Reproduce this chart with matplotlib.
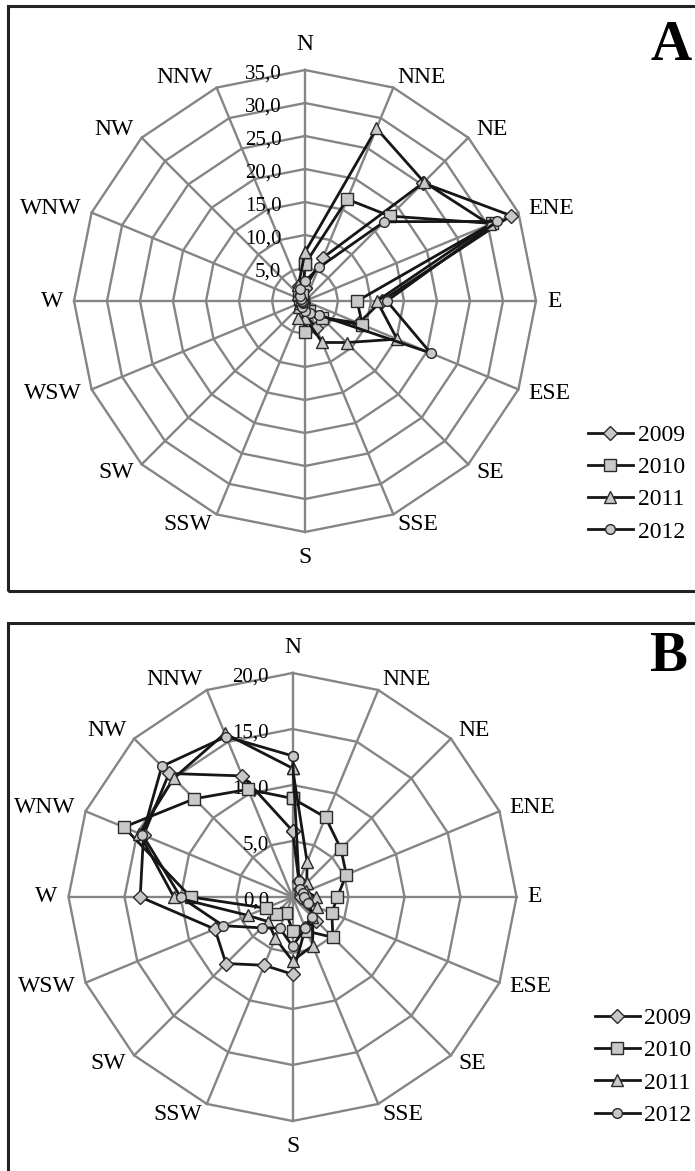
import numpy as np
import matplotlib
matplotlib.use('Agg')
import matplotlib.pyplot as plt
from matplotlib.patches import Rectangle

plt.rcParams['font.family'] = ['Liberation Serif', 'DejaVu Serif']

# Wind directions, clockwise from north
directions = ['N', 'NNE', 'NE', 'ENE', 'E', 'ESE', 'SE', 'SSE',
              'S', 'SSW', 'SW', 'WSW', 'W', 'WNW', 'NW', 'NNW']
years = ['2009', '2010', '2011', '2012']

# Panel A values (%)
a_2009 = [2.0, 7.1, 25.3, 33.8, 11.6, 8.8, 3.5, 4.5, 2.0, 1.0, 0.5, 0.4, 0.5, 0.6, 1.0, 2.4]
a_2010 = [5.6, 16.7, 18.2, 30.7, 7.9, 9.4, 3.7, 1.6, 4.7, 1.0, 0.5, 0.4, 0.6, 0.8, 1.2, 1.0]
a_2011 = [7.4, 28.3, 25.5, 30.3, 10.9, 15.1, 8.9, 6.8, 2.5, 2.8, 1.2, 0.8, 0.6, 0.6, 1.5, 2.6]
a_2012 = [3.0, 5.5, 17.0, 31.5, 12.4, 20.6, 3.0, 2.0, 1.5, 1.0, 0.5, 0.4, 0.5, 0.6, 1.0, 2.0]
a_ticks = [0, 5, 10, 15, 20, 25, 30, 35]
a_ticklabels = ['', '5,0', '10,0', '15,0', '20,0', '25,0', '30,0', '35,0']

# Panel B values (%)
b_2009 = [5.9, 1.5, 1.0, 0.8, 0.8, 1.5, 3.0, 3.0, 6.9, 6.6, 8.4, 7.5, 13.6, 14.4, 15.6, 11.7]
b_2010 = [8.8, 7.7, 6.1, 5.2, 4.0, 3.8, 5.1, 3.3, 3.0, 1.5, 2.1, 2.6, 9.1, 16.3, 12.4, 10.4]
b_2011 = [11.5, 3.4, 1.8, 1.3, 2.1, 2.4, 2.5, 4.7, 5.7, 4.0, 3.1, 4.3, 10.6, 14.8, 15.0, 15.8]
b_2012 = [12.6, 1.5, 1.0, 1.0, 1.0, 1.5, 2.5, 3.0, 4.4, 3.0, 3.9, 6.7, 10.0, 14.5, 16.5, 15.5]
b_ticks = [0, 5, 10, 15, 20]
b_ticklabels = ['0,0', '5,0', '10,0', '15,0', '20,0']

markers = ['D', 's', '^', 'o']
msizes = [7, 8.5, 9, 7]
grid_color = '#858585'
line_color = '#161616'
face_color = '#c8c8c8'

W, H = 695, 1171
fig = plt.figure(figsize=(W / 100, H / 100), dpi=100)


def radar(rect, series, ticks, ticklabels):
    ax = fig.add_axes(rect, projection='polar')
    ax.set_theta_zero_location('N')
    ax.set_theta_direction(-1)
    rmax = ticks[-1]
    ax.set_ylim(0, rmax)
    ax.grid(False)
    ax.set_xticks([])
    ax.set_yticks([])
    ax.spines['polar'].set_visible(False)
    ax.patch.set_visible(False)

    theta = np.linspace(0, 2 * np.pi, len(directions), endpoint=False)
    closed = np.append(theta, theta[0])

    # polygon rings and spokes
    for r in ticks[1:]:
        ax.plot(closed, [r] * len(closed), color=grid_color, lw=1.7,
                zorder=1, clip_on=False)
    for t in theta:
        ax.plot([t, t], [0, rmax], color=grid_color, lw=1.7, zorder=1,
                clip_on=False)

    # value labels left of the north spoke
    for r, lab in zip(ticks, ticklabels):
        ax.annotate(lab, xy=(0, r), xytext=(-17, -3), textcoords='offset points',
                    ha='right', va='center', fontsize=15)

    # direction labels
    for t, d in zip(theta, directions):
        s, c = np.sin(t), np.cos(t)
        ha = 'left' if s > 0.2 else ('right' if s < -0.2 else 'center')
        if c > 0.95:
            va = 'bottom'
        elif c < -0.95:
            va = 'top'
        else:
            va = 'center'
        k = 8 if abs(c) < 0.95 else 11
        ax.annotate(d, xy=(t, rmax), xytext=(k * s, k * c),
                    textcoords='offset points', ha=ha, va=va, fontsize=17)

    handles = []
    for vals, m, ms in zip(series, markers, msizes):
        v = np.append(vals, vals[0])
        h, = ax.plot(closed, v, color=line_color, lw=2.0, marker=m,
                     markersize=ms, markerfacecolor=face_color,
                     markeredgecolor='#2a2a2a', markeredgewidth=1.0,
                     zorder=3, clip_on=False)
        handles.append(h)
    return ax, handles


# Panel A
ax_a, hA = radar([0.1065, 0.5457, 0.6647, 0.3945],
                 [a_2009, a_2010, a_2011, a_2012], a_ticks, a_ticklabels)
# Panel B
ax_b, hB = radar([0.0986, 0.0427, 0.6446, 0.3826],
                 [b_2009, b_2010, b_2011, b_2012], b_ticks, b_ticklabels)

for handles, anchor in [(hA, (0.829, 0.587)), (hB, (0.839, 0.089))]:
    fig.legend(handles, years, loc='center left', bbox_to_anchor=anchor,
               frameon=False, fontsize=17, handlelength=1.9,
               handletextpad=0.2, labelspacing=0.45, borderpad=0)

# panel frames
fig.add_artist(Rectangle((8 / W, 1 - 591 / H), 1.0, 585 / H, transform=fig.transFigure,
                         fill=False, edgecolor='#222222', lw=2.2))
fig.add_artist(Rectangle((8 / W, -0.02), 1.0, 1 - 623 / H + 0.02, transform=fig.transFigure,
                         fill=False, edgecolor='#222222', lw=2.2))

fig.text(671 / W, 1 - 46 / H, 'A', ha='center', va='center', fontsize=41,
         fontweight='bold')
fig.text(668 / W, 1 - 657 / H, 'B', ha='center', va='center', fontsize=41,
         fontweight='bold')

fig.savefig('out.png', dpi=100)
